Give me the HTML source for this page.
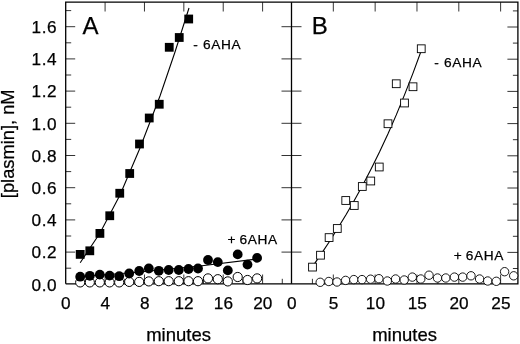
<!DOCTYPE html>
<html><head><meta charset="utf-8"><title>plasmin</title>
<style>
html,body{margin:0;padding:0;background:#fff}
svg{display:block}
text{font-family:"Liberation Sans",Arial,Helvetica,sans-serif;fill:#000;stroke:#000;stroke-width:.25px}
.t{font-size:17.2px;letter-spacing:.5px}
.l{font-size:18.5px}
.p{font-size:24px}
.s{font-size:13.7px;letter-spacing:.62px}
</style></head><body>
<svg width="520" height="344" viewBox="0 0 520 344">
<rect width="520" height="344" fill="#fff"/>
<g stroke="#000" stroke-width="0.8" fill="none">
<line x1="65.7" y1="268.20" x2="71.2" y2="268.20"/><line x1="512.9" y1="268.50" x2="517.9" y2="268.50"/><line x1="65.7" y1="252.10" x2="75.2" y2="252.10"/><line x1="65.7" y1="236.00" x2="71.2" y2="236.00"/><line x1="281.5" y1="252.10" x2="301.5" y2="252.10"/><line x1="507.4" y1="252.40" x2="517.9" y2="252.40"/><line x1="512.9" y1="236.30" x2="517.9" y2="236.30"/><line x1="65.7" y1="219.90" x2="75.2" y2="219.90"/><line x1="65.7" y1="203.80" x2="71.2" y2="203.80"/><line x1="281.5" y1="219.90" x2="301.5" y2="219.90"/><line x1="507.4" y1="220.20" x2="517.9" y2="220.20"/><line x1="512.9" y1="204.10" x2="517.9" y2="204.10"/><line x1="65.7" y1="187.70" x2="75.2" y2="187.70"/><line x1="65.7" y1="171.60" x2="71.2" y2="171.60"/><line x1="281.5" y1="187.70" x2="301.5" y2="187.70"/><line x1="507.4" y1="188.00" x2="517.9" y2="188.00"/><line x1="512.9" y1="171.90" x2="517.9" y2="171.90"/><line x1="65.7" y1="155.50" x2="75.2" y2="155.50"/><line x1="65.7" y1="139.40" x2="71.2" y2="139.40"/><line x1="281.5" y1="155.50" x2="301.5" y2="155.50"/><line x1="507.4" y1="155.80" x2="517.9" y2="155.80"/><line x1="512.9" y1="139.70" x2="517.9" y2="139.70"/><line x1="65.7" y1="123.30" x2="75.2" y2="123.30"/><line x1="65.7" y1="107.20" x2="71.2" y2="107.20"/><line x1="281.5" y1="123.30" x2="301.5" y2="123.30"/><line x1="507.4" y1="123.60" x2="517.9" y2="123.60"/><line x1="512.9" y1="107.50" x2="517.9" y2="107.50"/><line x1="65.7" y1="91.10" x2="75.2" y2="91.10"/><line x1="65.7" y1="75.00" x2="71.2" y2="75.00"/><line x1="281.5" y1="91.10" x2="301.5" y2="91.10"/><line x1="507.4" y1="91.40" x2="517.9" y2="91.40"/><line x1="512.9" y1="75.30" x2="517.9" y2="75.30"/><line x1="65.7" y1="58.90" x2="75.2" y2="58.90"/><line x1="65.7" y1="42.80" x2="71.2" y2="42.80"/><line x1="281.5" y1="58.90" x2="301.5" y2="58.90"/><line x1="507.4" y1="59.20" x2="517.9" y2="59.20"/><line x1="512.9" y1="43.10" x2="517.9" y2="43.10"/><line x1="65.7" y1="26.70" x2="75.2" y2="26.70"/><line x1="65.7" y1="10.60" x2="71.2" y2="10.60"/><line x1="281.5" y1="26.70" x2="301.5" y2="26.70"/><line x1="507.4" y1="27.00" x2="517.9" y2="27.00"/><line x1="512.9" y1="10.90" x2="517.9" y2="10.90"/>
<line x1="105.08" y1="2.2" x2="105.08" y2="11.5"/><line x1="105.08" y1="283.8" x2="105.08" y2="274.5"/><line x1="144.46" y1="2.2" x2="144.46" y2="11.5"/><line x1="144.46" y1="283.8" x2="144.46" y2="274.5"/><line x1="183.84" y1="2.2" x2="183.84" y2="11.5"/><line x1="183.84" y1="283.8" x2="183.84" y2="274.5"/><line x1="223.22" y1="2.2" x2="223.22" y2="11.5"/><line x1="223.22" y1="283.8" x2="223.22" y2="274.5"/><line x1="262.60" y1="2.2" x2="262.60" y2="11.5"/><line x1="262.60" y1="283.8" x2="262.60" y2="274.5"/><line x1="85.39" y1="283.8" x2="85.39" y2="278.8"/><line x1="124.77" y1="283.8" x2="124.77" y2="278.8"/><line x1="164.15" y1="283.8" x2="164.15" y2="278.8"/><line x1="203.53" y1="283.8" x2="203.53" y2="278.8"/><line x1="242.91" y1="283.8" x2="242.91" y2="278.8"/><line x1="282.29" y1="283.8" x2="282.29" y2="278.8"/><line x1="333.32" y1="2.2" x2="333.32" y2="11.5"/><line x1="333.32" y1="283.8" x2="333.32" y2="274.5"/><line x1="375.15" y1="2.2" x2="375.15" y2="11.5"/><line x1="375.15" y1="283.8" x2="375.15" y2="274.5"/><line x1="416.98" y1="2.2" x2="416.98" y2="11.5"/><line x1="416.98" y1="283.8" x2="416.98" y2="274.5"/><line x1="458.80" y1="2.2" x2="458.80" y2="11.5"/><line x1="458.80" y1="283.8" x2="458.80" y2="274.5"/><line x1="500.62" y1="2.2" x2="500.62" y2="11.5"/><line x1="500.62" y1="283.8" x2="500.62" y2="274.5"/><line x1="312.41" y1="283.8" x2="312.41" y2="278.8"/><line x1="354.24" y1="283.8" x2="354.24" y2="278.8"/><line x1="396.06" y1="283.8" x2="396.06" y2="278.8"/><line x1="437.89" y1="283.8" x2="437.89" y2="278.8"/><line x1="479.71" y1="283.8" x2="479.71" y2="278.8"/>
</g>
<g stroke="#000" stroke-width="1.3" fill="none">
<path d="M65.7 283.8V2.2H517.9V283.8H65.7"/>
<line x1="291.5" y1="2.2" x2="291.5" y2="283.8"/>
</g>
<g stroke="#000" stroke-width="1.1" fill="none">
<path d="M80.2 262.7 L100 233 L120 195 L140 148 L160 96 L175 52 L189 8"/>
<path d="M80.2 276.8 L140 272 L200 266 L257 259"/>
<path d="M312.5 266.6 L320.9 254.4 L329.3 241.7 L337.6 228.5 L346.0 214.8 L354.4 200.3 L362.8 185.1 L371.1 169.0 L379.5 152.0 L387.9 134.0 L396.3 114.9 L404.6 94.6 L413.0 73.1 L421.4 50.2"/>
</g>
<g fill="#fff" stroke="#000" stroke-width="1">
<circle cx="80.2" cy="282.4" r="4.6"/><circle cx="89.8" cy="282.4" r="4.6"/><circle cx="99.8" cy="282.4" r="4.6"/><circle cx="109.6" cy="282.4" r="4.6"/><circle cx="119.2" cy="282.4" r="4.6"/><circle cx="129.2" cy="281.9" r="4.6"/><circle cx="139.2" cy="281.9" r="4.6"/><circle cx="148.8" cy="281.4" r="4.6"/><circle cx="158.8" cy="281.2" r="4.6"/><circle cx="168.7" cy="281.2" r="4.6"/><circle cx="178.8" cy="281.2" r="4.6"/><circle cx="188.5" cy="281.2" r="4.6"/><circle cx="198" cy="281.2" r="4.6"/><circle cx="208" cy="278.4" r="4.6"/><circle cx="217.8" cy="279.2" r="4.6"/><circle cx="227.8" cy="281.4" r="4.6"/><circle cx="237.7" cy="277.0" r="4.6"/><circle cx="247.5" cy="280.0" r="4.6"/><circle cx="257.1" cy="278.4" r="4.6"/>
</g>
<g fill="#000">
<circle cx="80.2" cy="276.7" r="4.9"/><circle cx="89.8" cy="275.8" r="4.9"/><circle cx="99.8" cy="274.6" r="4.9"/><circle cx="109.6" cy="275.6" r="4.9"/><circle cx="119.2" cy="276.2" r="4.9"/><circle cx="129.2" cy="273.5" r="4.9"/><circle cx="139.2" cy="271" r="4.9"/><circle cx="148.8" cy="268.5" r="4.9"/><circle cx="158.8" cy="270.8" r="4.9"/><circle cx="168.7" cy="270" r="4.9"/><circle cx="178.8" cy="270" r="4.9"/><circle cx="188.5" cy="269" r="4.9"/><circle cx="198" cy="268.5" r="4.9"/><circle cx="208" cy="260" r="4.9"/><circle cx="217.8" cy="262.1" r="4.9"/><circle cx="227.8" cy="270.4" r="4.9"/><circle cx="237.7" cy="254.4" r="4.9"/><circle cx="247.5" cy="264.6" r="4.9"/><circle cx="257.1" cy="257.9" r="4.9"/>
<rect x="75.80" y="250.00" width="8.8" height="8.8"/><rect x="85.40" y="246.40" width="8.8" height="8.8"/><rect x="95.50" y="229.00" width="8.8" height="8.8"/><rect x="105.35" y="211.35" width="8.8" height="8.8"/><rect x="115.35" y="188.85" width="8.8" height="8.8"/><rect x="125.30" y="169.10" width="8.8" height="8.8"/><rect x="135.10" y="139.60" width="8.8" height="8.8"/><rect x="144.85" y="113.60" width="8.8" height="8.8"/><rect x="154.85" y="99.85" width="8.8" height="8.8"/><rect x="164.85" y="42.90" width="8.8" height="8.8"/><rect x="174.85" y="33.10" width="8.8" height="8.8"/><rect x="184.30" y="14.60" width="8.8" height="8.8"/>
</g>
<g fill="#fff" stroke="#000" stroke-width="0.9">
<circle cx="320.2" cy="282.3" r="4.2"/><circle cx="328.8" cy="281.5" r="4.2"/><circle cx="337" cy="282" r="4.2"/><circle cx="345.6" cy="280.4" r="4.2"/><circle cx="353.8" cy="279.6" r="4.2"/><circle cx="362" cy="279.6" r="4.2"/><circle cx="370.6" cy="279.2" r="4.2"/><circle cx="378.9" cy="278.7" r="4.2"/><circle cx="387.3" cy="281" r="4.2"/><circle cx="395.6" cy="279" r="4.2"/><circle cx="404.2" cy="280" r="4.2"/><circle cx="412.3" cy="277.1" r="4.2"/><circle cx="420.8" cy="279" r="4.2"/><circle cx="429" cy="275.2" r="4.2"/><circle cx="437.5" cy="278" r="4.2"/><circle cx="445.8" cy="278" r="4.2"/><circle cx="454.4" cy="277.1" r="4.2"/><circle cx="462.7" cy="277.1" r="4.2"/><circle cx="471" cy="275.8" r="4.2"/><circle cx="479.6" cy="279" r="4.2"/><circle cx="487.7" cy="281" r="4.2"/><circle cx="496.3" cy="281.3" r="4.2"/><circle cx="504.6" cy="271.7" r="4.2"/><circle cx="513.7" cy="275.8" r="4.2"/>
<rect x="308.60" y="263.20" width="7.8" height="7.8"/><rect x="316.60" y="251.30" width="7.8" height="7.8"/><rect x="325.20" y="233.70" width="7.8" height="7.8"/><rect x="333.40" y="224.60" width="7.8" height="7.8"/><rect x="341.85" y="196.60" width="7.8" height="7.8"/><rect x="350.35" y="201.60" width="7.8" height="7.8"/><rect x="358.40" y="182.60" width="7.8" height="7.8"/><rect x="366.85" y="177.10" width="7.8" height="7.8"/><rect x="375.35" y="163.10" width="7.8" height="7.8"/><rect x="384.10" y="119.85" width="7.8" height="7.8"/><rect x="392.35" y="79.85" width="7.8" height="7.8"/><rect x="400.60" y="99.10" width="7.8" height="7.8"/><rect x="409.10" y="82.85" width="7.8" height="7.8"/><rect x="417.35" y="44.85" width="7.8" height="7.8"/>
</g>
<g class="t" text-anchor="end">
<text x="57" y="290.5">0.0</text><text x="57" y="258.3">0.2</text><text x="57" y="226.1">0.4</text><text x="57" y="193.9">0.6</text><text x="57" y="161.7">0.8</text><text x="57" y="129.5">1.0</text><text x="57" y="97.3">1.2</text><text x="57" y="65.1">1.4</text><text x="57" y="32.9">1.6</text>
</g>
<g class="t" style="letter-spacing:0" text-anchor="middle">
<text x="65.9" y="309.2">0</text><text x="105.3" y="309.2">4</text><text x="144.7" y="309.2">8</text><text x="184.0" y="309.2">12</text><text x="223.4" y="309.2">16</text><text x="262.8" y="309.2">20</text><text x="291.8" y="309.2">0</text><text x="333.6" y="309.2">5</text><text x="375.4" y="309.2">10</text><text x="417.3" y="309.2">15</text><text x="459.1" y="309.2">20</text><text x="500.9" y="309.2">25</text>
</g>
<text class="l" x="146.2" y="341.3">minutes</text>
<text class="l" x="372.2" y="341.3">minutes</text>
<text class="l" style="font-size:18.3px" transform="translate(14.1 143.8) rotate(-90)" text-anchor="middle">[plasmin], nM</text>
<text class="p" x="82.6" y="34.4">A</text>
<text class="p" x="311.8" y="33.8">B</text>
<text class="s" x="193.3" y="49.2">- 6AHA</text>
<text class="s" x="227.4" y="244.3" style="word-spacing:-1px">+ 6AHA</text>
<text class="s" x="434.3" y="67.1">- 6AHA</text>
<text class="s" x="453.8" y="260.2" style="word-spacing:-1px">+ 6AHA</text>
</svg>
</body></html>
